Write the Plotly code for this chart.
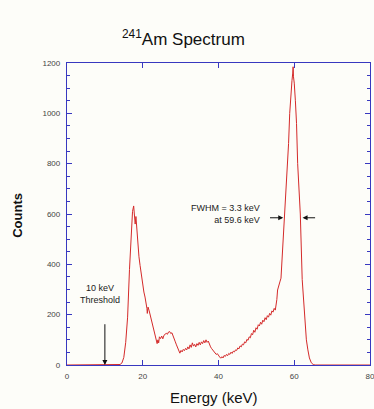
import plotly.graph_objects as go

energy = [0, 13.5, 14.0, 14.5, 15.0, 15.5, 16.0, 16.5, 17.0, 17.3, 17.6, 17.8, 18.0, 18.2, 18.4, 18.7,
          19.0, 19.3, 19.6, 20.0, 20.3, 20.6, 20.9, 21.1, 21.2, 21.4, 21.7, 22.0, 22.3, 22.6, 23.0,
          23.3, 23.6, 23.8, 24.0, 24.2, 24.4, 24.7, 25.0, 25.3, 25.6, 25.9, 26.2, 26.5, 26.8, 27.1,
          27.4, 27.7, 28.0, 28.3, 28.6, 28.9, 29.2, 29.5, 29.8, 30.1, 30.4, 30.7, 31.0, 31.3, 31.6,
          31.9, 32.2, 32.5, 32.8, 33.1, 33.4, 33.7, 34.0, 34.3, 34.6, 34.9, 35.2, 35.5, 35.8, 36.1,
          36.4, 36.7, 37.0, 37.3, 37.6, 37.9, 38.2, 38.5, 38.8, 39.1, 39.4, 39.7, 40.0, 40.3, 40.6,
          40.9, 41.2, 41.5, 41.8, 42.1, 42.4, 42.7, 43.0, 43.3, 43.6, 43.9, 44.2, 44.5, 44.8, 45.1,
          45.4, 45.7, 46.0, 46.3, 46.6, 46.9, 47.2, 47.5, 47.8, 48.1, 48.4, 48.7, 49.0, 49.3, 49.6,
          49.9, 50.2, 50.5, 50.8, 51.1, 51.4, 51.7, 52.0, 52.3, 52.6, 52.9, 53.2, 53.5, 53.8, 54.1,
          54.4, 54.7, 55.0, 55.2, 55.4, 55.6, 55.9, 56.2, 56.5, 56.8, 57.0, 57.3, 57.6, 57.9, 58.2,
          58.5, 58.8, 59.1, 59.4, 59.6, 59.7, 59.8, 60.0, 60.3, 60.6, 60.9, 61.2, 61.6, 62.1, 62.7,
          63.2, 63.6, 64.0, 64.5, 65.0, 65.5, 66.0, 67.0, 67.4, 68.0, 70.0, 70.4, 71.0, 73.0, 73.4,
          74.0, 76.0, 76.4, 77.0, 78.0, 78.4, 79.0, 80.0]
counts = [0, 0, 2, 8, 30, 90, 190, 380, 540, 610, 632, 590, 560, 590, 540, 490,
          430, 395, 360, 320, 290, 270, 250, 225, 205, 230, 215, 195, 180, 168, 140,
          115, 95, 85, 100, 88, 112, 105, 115, 104, 118, 122, 126, 122, 131, 133,
          125, 128, 118, 105, 92, 80, 68, 55, 47, 58, 52, 62, 57, 66, 60,
          72, 64, 80, 70, 88, 75, 82, 72, 85, 78, 90, 80, 92, 85, 97,
          88, 100, 90, 95, 78, 72, 65, 58, 52, 48, 42, 45, 36, 32, 27,
          33, 28, 38, 34, 42, 37, 46, 42, 51, 46, 55, 52, 60, 58, 68,
          64, 76, 72, 83, 80, 92, 88, 102, 98, 112, 108, 125, 120, 138, 130,
          148, 142, 160, 155, 170, 162, 178, 172, 188, 180, 196, 190, 205, 198, 215,
          210, 225, 218, 235, 260, 298, 310, 330, 345, 420, 480, 580, 660, 720, 760,
          880, 1000, 1090, 1130, 1160, 1185, 1145, 1120, 1050, 960, 800, 720, 600, 340, 180,
          100, 60, 28, 9, 2, 0, 0, 0, 3, 0, 0, 2, 0, 0, 3,
          0, 0, 2, 0, 0, 3, 0, 0]

x_ticks = [0, 20, 40, 60, 80]
y_ticks = [0, 200, 400, 600, 800, 1000, 1200]

axis_color = "#3838c0"
font_family = "Liberation Sans, Arial, sans-serif"

fig = go.Figure()
fig.add_trace(go.Scatter(x=energy, y=counts, mode="lines",
                         line=dict(color="#d42a2a", width=1), showlegend=False,
                         hoverinfo="skip"))

fig.update_layout(
    width=374, height=409,
    margin=dict(l=67, r=4, t=63, b=44),
    paper_bgcolor="#fdfdf9", plot_bgcolor="#fdfdf9",
    font=dict(family=font_family, size=8, color="#444444"),
    xaxis=dict(range=[0, 80], tickvals=x_ticks, ticks="inside", ticklen=5, tickcolor=axis_color,
               tickwidth=1, showline=True, linecolor=axis_color, linewidth=1.3, mirror="ticks",
               showgrid=False, zeroline=False, tickfont=dict(size=8, color="#444444"),
               ticklabelstandoff=3, automargin=False, ticklabeloverflow="allow"),
    yaxis=dict(range=[0, 1200], tickvals=y_ticks, ticks="inside", ticklen=5, tickcolor=axis_color,
               tickwidth=1, showline=True, linecolor=axis_color, linewidth=1.3, mirror="ticks",
               showgrid=False, zeroline=False, tickfont=dict(size=8, color="#444444"),
               ticklabelstandoff=4, automargin=False, ticklabeloverflow="allow",
               minor=dict(dtick=50, ticks="inside", ticklen=3, tickcolor=axis_color, showgrid=False)),
)

annotations = [
    dict(text="<sup>241</sup>Am Spectrum", xref="paper", yref="paper", x=0.386, y=1.083,
         xanchor="center", yanchor="middle",
         showarrow=False, font=dict(size=17, color="#111111", family=font_family)),
    dict(text="<b>Counts</b>", xref="paper", yref="paper", x=-0.162, y=0.497, textangle=-90,
         xanchor="center", yanchor="middle",
         showarrow=False, font=dict(size=13, color="#111111", family=font_family)),
    dict(text="Energy (keV)", xref="paper", yref="paper", x=0.485, y=-0.106,
         xanchor="center", yanchor="middle",
         showarrow=False, font=dict(size=15, color="#111111", family=font_family)),
    dict(text="10 keV<br>Threshold", x=8.8, y=284, xref="x", yref="y", showarrow=False,
         font=dict(size=9, color="#222222", family=font_family)),
    dict(text="FWHM = 3.3 keV<br>at 59.6 keV", x=51.6, y=602, xref="x", yref="y",
         xanchor="right", align="right", showarrow=False,
         font=dict(size=9, color="#222222", family=font_family)),
    dict(x=10, y=0, ax=10, ay=168, xref="x", yref="y", axref="x", ayref="y", text="",
         showarrow=True, arrowhead=2, arrowsize=1, arrowwidth=1, arrowcolor="#111111"),
    dict(x=57.1, y=585, ax=53.2, ay=585, xref="x", yref="y", axref="x", ayref="y", text="",
         showarrow=True, arrowhead=2, arrowsize=1, arrowwidth=1, arrowcolor="#111111"),
    dict(x=62.2, y=585, ax=65.9, ay=585, xref="x", yref="y", axref="x", ayref="y", text="",
         showarrow=True, arrowhead=2, arrowsize=1, arrowwidth=1, arrowcolor="#111111"),
]
fig.update_layout(annotations=annotations)

fig.write_html("out.html", config={"displayModeBar": False},
               post_script="document.body.style.margin='0px';document.body.style.overflow='hidden';")
